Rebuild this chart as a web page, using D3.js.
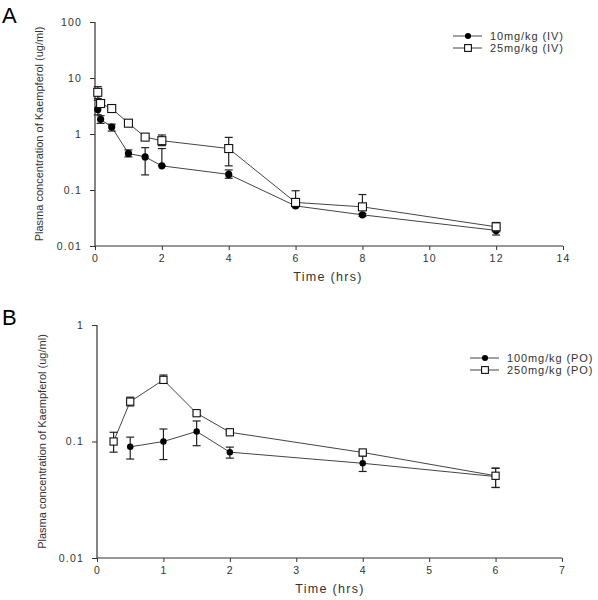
<!DOCTYPE html>
<html><head><meta charset="utf-8">
<script src="https://cdn.jsdelivr.net/npm/d3@7/dist/d3.min.js"></script>
<style>body{margin:0;background:#fff}svg{display:block;font-family:"Liberation Sans",Arial,sans-serif}</style>
</head><body><svg id="c" width="598" height="600"></svg>
<script>
// Panel A (IV)
const timeA = [0.083, 0.167, 0.5, 1, 1.5, 2, 4, 6, 8, 12];
const iv10 = [2.75, 1.83, 1.33, 0.45, 0.39, 0.27, 0.19, 0.052, 0.036, 0.019];
const iv10Hi = [4.0, 2.12, 1.5, 0.52, 0.57, 0.55, 0.228, 0.055, 0.038, 0.021];
const iv10Lo = [2.2, 1.55, 1.13, 0.39, 0.186, 0.27, 0.162, 0.05, 0.034, 0.0157];
const iv25 = [5.55, 3.5, 2.85, 1.56, 0.88, 0.76, 0.55, 0.06, 0.05, 0.022];
const iv25Hi = [7.0, 3.8, 3.0, 1.65, 0.92, 0.96, 0.87, 0.097, 0.083, 0.0263];
const iv25Lo = [4.3, 3.2, 2.7, 1.47, 0.84, 0.62, 0.27, 0.057, 0.047, 0.018];
const ticksAx = [0, 2, 4, 6, 8, 10, 12, 14];
const ticksAy = [0.01, 0.1, 1, 10, 100];
const ticksAyLabels = ["0.01", "0.1", "1", "10", "100"];
const legendA = ["10mg/kg (IV)", "25mg/kg (IV)"];

// Panel B (PO)
const timeB100 = [0.5, 1, 1.5, 2, 4, 6];
const po100 = [0.09, 0.1, 0.122, 0.081, 0.065, 0.05];
const po100Hi = [0.109, 0.128, 0.15, 0.0895, 0.075, 0.059];
const po100Lo = [0.0707, 0.07, 0.092, 0.072, 0.0553, 0.0403];
const timeB250 = [0.25, 0.5, 1, 1.5, 2, 4, 6];
const po250 = [0.1, 0.22, 0.338, 0.175, 0.12, 0.0805, 0.0508];
const po250Hi = [0.12, 0.24, 0.372, 0.18, 0.123, 0.083, 0.059];
const po250Lo = [0.081, 0.202, 0.316, 0.17, 0.117, 0.078, 0.0403];
const ticksBx = [0, 1, 2, 3, 4, 5, 6, 7];
const ticksBy = [0.01, 0.1, 1];
const ticksByLabels = ["0.01", "0.1", "1"];
const legendB = ["100mg/kg (PO)", "250mg/kg (PO)"];

const yTitle = "Plasma concentration of Kaempferol (ug/ml)";
const xTitle = "Time (hrs)";

const svg = d3.select("#c");
const axisCol = "#333";
const lineCol = "#444";

function panel(cfg) {
  const g = svg.append("g");
  const x = d3.scaleLinear().domain(cfg.xDomain).range([cfg.x0, cfg.x1]);
  const y = d3.scaleLog().domain(cfg.yDomain).range([cfg.y0, cfg.y1]);
  const xa = g.append("g").attr("transform", `translate(0,${cfg.y0})`)
    .call(d3.axisBottom(x).tickValues(cfg.xTicks).tickSize(4).tickPadding(5).tickFormat(d3.format("d")));
  const ya = g.append("g").attr("transform", `translate(${cfg.x0},0)`)
    .call(d3.axisLeft(y).tickValues(cfg.yTicks).tickSize(5).tickPadding(7).tickFormat((d,i)=>cfg.yLabels[i]));
  [xa, ya].forEach(a => {
    a.select(".domain").attr("stroke", axisCol).attr("stroke-width", 1.2);
    a.selectAll(".tick line").attr("stroke", axisCol);
    a.selectAll(".tick text").attr("fill", "#333").style("font-size", "10.5px")
      .style("letter-spacing", "1.2px").style("font-family", '"Liberation Sans",Arial,sans-serif');
  });
  ya.selectAll(".tick text").attr("dx", "-1px");
  ya.select(".domain").attr("d", `M-0,${cfg.y0}V${cfg.y1}`);
  xa.select(".domain").attr("d", `M${cfg.x0},0H${cfg.x1}`);
  g.append("text").attr("x", cfg.titleX).attr("y", cfg.y0 + 35).attr("text-anchor", "middle")
    .style("font-size", "12.5px").style("letter-spacing", "1.3px").attr("fill", "#333").text(xTitle);
  g.append("text").attr("transform", `translate(${cfg.yTitleX},${(cfg.y0+cfg.y1)/2}) rotate(-90)`)
    .attr("text-anchor", "middle").attr("dy", "0.35em").style("font-size", "11px").attr("fill", "#333").text(yTitle);
  g.append("text").attr("x", 2).attr("y", cfg.letterY).style("font-size", "22px").attr("fill", "#000").text(cfg.letter);

  const line = d3.line().x(d => x(d[0])).y(d => y(d[1]));
  cfg.series.forEach(s => {
    const pts = s.t.map((t, i) => [t, s.v[i], s.hi[i], s.lo[i]]);
    g.append("path").datum(pts).attr("d", line).attr("fill", "none").attr("stroke", lineCol).attr("stroke-width", 1);
    const eb = g.append("g").attr("stroke", "#222").attr("stroke-width", 1.2);
    pts.forEach(p => {
      const cx = x(p[0]);
      eb.append("line").attr("x1", cx).attr("x2", cx).attr("y1", y(p[2])).attr("y2", y(p[3]));
      eb.append("line").attr("x1", cx-4).attr("x2", cx+4).attr("y1", y(p[2])).attr("y2", y(p[2]));
      eb.append("line").attr("x1", cx-4).attr("x2", cx+4).attr("y1", y(p[3])).attr("y2", y(p[3]));
    });
    pts.forEach(p => drawMarker(g, s.type, x(p[0]), y(p[1]), cfg.mk));
  });
  cfg.legend.forEach((name, i) => {
    const ly = cfg.legY + i * 12;
    g.append("line").attr("x1", cfg.legX).attr("x2", cfg.legX + 29).attr("y1", ly).attr("y2", ly)
      .attr("stroke", lineCol).attr("stroke-width", 1);
    drawMarker(g, i === 0 ? "circle" : "square", cfg.legX + 15, ly, 0.85);
    g.append("text").attr("x", cfg.legX + 37).attr("y", ly).attr("dy", "0.36em")
      .style("font-size", "11px").style("letter-spacing", "0.9px").attr("fill", "#333").text(name);
  });
}
function drawMarker(g, type, cx, cy, k = 1) {
  if (type === "circle") {
    g.append("circle").attr("cx", cx).attr("cy", cy).attr("r", 3.6 * k).attr("fill", "#000");
  } else {
    const s = 8 * k;
    g.append("rect").attr("x", cx - s/2).attr("y", cy - s/2).attr("width", s).attr("height", s)
      .attr("fill", "#fff").attr("stroke", "#111").attr("stroke-width", 1.1);
  }
}

panel({
  letter: "A", letterY: 23, mk: 1,
  xDomain: [0, 14], x0: 95, x1: 563, xTicks: ticksAx,
  yDomain: [0.01, 100], y0: 246, y1: 22, yTicks: ticksAy, yLabels: ticksAyLabels,
  titleX: 328, yTitleX: 39,
  legX: 453, legY: 36, legend: legendA,
  series: [
    {type: "circle", t: timeA, v: iv10, hi: iv10Hi, lo: iv10Lo},
    {type: "square", t: timeA, v: iv25, hi: iv25Hi, lo: iv25Lo}
  ]
});
panel({
  letter: "B", letterY: 325, mk: 0.9,
  xDomain: [0, 7], x0: 97, x1: 562, xTicks: ticksBx,
  yDomain: [0.01, 1], y0: 558, y1: 325, yTicks: ticksBy, yLabels: ticksByLabels,
  titleX: 330, yTitleX: 42,
  legX: 470, legY: 358, legend: legendB,
  series: [
    {type: "circle", t: timeB100, v: po100, hi: po100Hi, lo: po100Lo},
    {type: "square", t: timeB250, v: po250, hi: po250Hi, lo: po250Lo}
  ]
});
</script></body></html>
